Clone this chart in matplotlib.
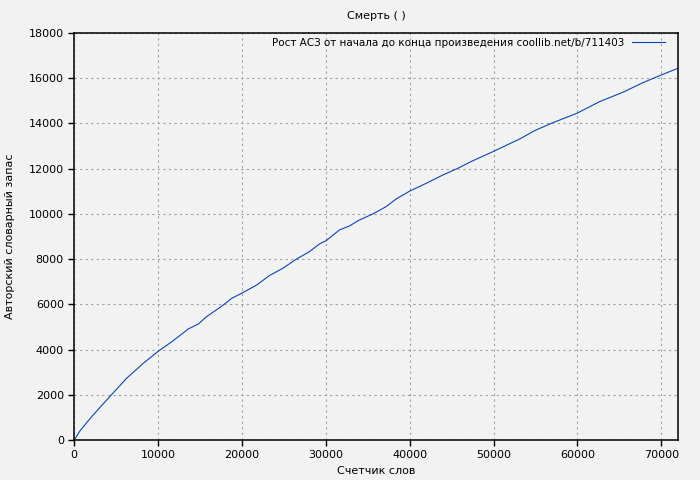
import matplotlib
matplotlib.use("Agg")
import matplotlib.pyplot as plt

title = "Смерть ( )"
xlabel = "Счетчик слов"
ylabel = "Авторский словарный запас"
legend_label = "Рост АСЗ от начала до конца произведения coollib.net/b/711403"

words = [0, 680, 1470, 2270, 3460, 4380, 6250, 8230, 9950, 11815, 13605, 14800,
         15790, 17780, 18780, 19970, 21760, 23270, 24860, 26460, 28050, 29240,
         30040, 31630, 32820, 34010, 35600, 37190, 38390, 40020, 41970, 43960,
         45750, 47140, 48330, 49920, 53110, 54900, 56890, 59950, 62660, 65440,
         67830, 70020, 72000]
vocab = [0, 400, 760, 1110, 1600, 1975, 2730, 3390, 3905, 4395, 4910, 5130,
         5455, 5970, 6265, 6490, 6855, 7270, 7590, 7990, 8330, 8670,
         8815, 9290, 9465, 9730, 9995, 10320, 10660, 11010, 11350, 11720,
         12015, 12280, 12485, 12750, 13310, 13680, 14005, 14450, 14965, 15380,
         15805, 16145, 16440]

xticks = [0, 10000, 20000, 30000, 40000, 50000, 60000, 70000]
yticks = [0, 2000, 4000, 6000, 8000, 10000, 12000, 14000, 16000, 18000]

bg = "#f2f2f2"
fig = plt.figure(figsize=(7, 4.8), dpi=100, facecolor=bg)
ax = fig.add_axes([0.106, 0.0833, 0.8626, 0.848])
ax.set_facecolor(bg)

ax.plot(words, vocab, color="#0a46b4", linewidth=0.8, label=legend_label)

ax.set_xlim(0, 72000)
ax.set_ylim(0, 18000)
ax.set_xticks(xticks)
ax.set_yticks(yticks)
ax.tick_params(labelsize=8, direction="out", length=4, width=1, colors="black")
for s in ax.spines.values():
    s.set_linewidth(1.1)
ax.grid(True, color="#a0a0a0", linestyle=(0, (2, 3)), linewidth=0.8)

ax.set_title(title, fontsize=8, pad=10)
ax.set_xlabel(xlabel, fontsize=8, labelpad=4)
ax.set_ylabel(ylabel, fontsize=8, labelpad=10)

leg = ax.legend(loc="upper right", frameon=False, fontsize=7.5, markerfirst=False,
                handlelength=3.2, handletextpad=0.7, borderpad=0, borderaxespad=0,
                bbox_to_anchor=(0.9785, 0.988))

fig.savefig("out.png", dpi=100, facecolor=bg)
